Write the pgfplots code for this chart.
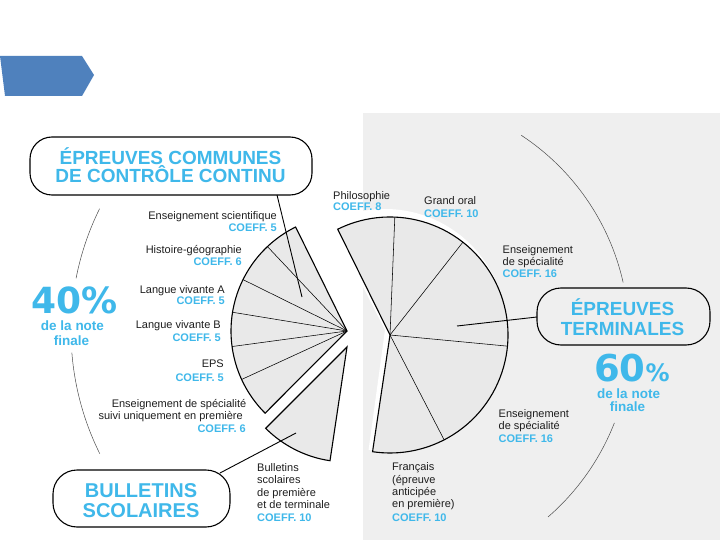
\documentclass[border=0pt]{standalone}
\usepackage{pgfplots}
\pgfplotsset{compat=1.18}
\usepackage{pgfplotstable}
\usepackage{fontspec}
\setmainfont{Liberation Sans}
\newfontfamily\numfont{DejaVu Sans}
\definecolor{cblue}{HTML}{3FB8EA}
\definecolor{arrowblue}{HTML}{4F81BD}
\definecolor{bggray}{HTML}{EFEFEF}
\definecolor{piegray}{HTML}{E9E9E9}
\definecolor{txt}{HTML}{1E1E1E}

% coefficients (each coefficient = 1 % of the final mark)
\pgfplotstableread{
subject coeff
sci 5
hist 6
lva 5
lvb 5
eps 5
spe 6
}\communes
\pgfplotstableread{
subject coeff
philo 8
oral 10
speA 16
speB 16
fr 10
}\terminales
\pgfplotstableread{
subject coeff
bulletins 10
}\bulletins

\newcommand\piesum[1]{%
  \def\pieSum{0}%
  \pgfplotstablegetrowsof{#1}%
  \pgfmathtruncatemacro\pieN{\pgfplotsretval-1}%
  \pgfplotsforeachungrouped \pieI in {0,...,\pieN}{%
    \pgfplotstablegetelem{\pieI}{coeff}\of{#1}%
    \pgfmathsetmacro\pieSum{\pieSum+\pgfplotsretval}%
  }%
}
% table, style, cx, cy, start, step (deg per coeff), radius
\newcommand\drawpie[7]{%
  \piesum{#1}%
  \pgfmathsetmacro\pieEnd{#5+(#6)*\pieSum}%
  \edef\pieTmp{\noexpand\path[#2] (axis cs:#3,#4) -- ++(canvas polar cs:angle=#5,radius=#7pt) arc[start angle=#5,end angle=\pieEnd,radius=#7pt] -- cycle;}%
  \pieTmp
}
% table, cx, cy, start, step, radius
\newcommand\drawdividers[6]{%
  \pgfplotstablegetrowsof{#1}%
  \pgfmathtruncatemacro\pieN{\pgfplotsretval-2}%
  \edef\pieAcc{#4}%
  \pgfplotsforeachungrouped \pieI in {0,...,\pieN}{%
    \pgfplotstablegetelem{\pieI}{coeff}\of{#1}%
    \pgfmathsetmacro\pieAcc{\pieAcc+(#5)*\pgfplotsretval}%
    \edef\pieTmp{\noexpand\draw[line width=0.55pt] (axis cs:#2,#3) -- ++(canvas polar cs:angle=\pieAcc,radius=#6pt);}%
    \pieTmp
  }%
}
\newcommand\lbl[4]{\node[anchor=base #3,inner sep=0pt,text=txt,font=\fontsize{11}{13}\selectfont] at (axis cs:#1,#2) {#4};}
\newcommand\cf[4]{\node[anchor=base #3,inner sep=0pt,text=cblue,font=\fontsize{11}{13}\selectfont\bfseries] at (axis cs:#1,#2) {#4};}
\newcommand\head[4]{\node[anchor=base,inner sep=0pt,text=cblue,font=\fontsize{#3}{#3}\selectfont\bfseries] at (axis cs:#1,#2) {#4};}

\begin{document}
\begin{tikzpicture}
\begin{axis}[width=720pt,height=540pt,scale only axis,
  xmin=0,xmax=720,ymin=0,ymax=540,y dir=reverse,hide axis,clip=false]
% backgrounds
\fill[white] (axis cs:0,0) rectangle (axis cs:720,540);
\fill[bggray] (axis cs:363,113) rectangle (axis cs:720,540);
\fill[arrowblue] (axis cs:0,56) -- (axis cs:82,56) -- (axis cs:94,75) -- (axis cs:82,96) -- (axis cs:5,96) -- cycle;

% right pie white halo
\drawpie{\terminales}{fill=white}{385}{330}{117}{-3.58}{121}
% pies
\drawpie{\communes}{fill=piegray}{347}{331}{116.3}{3.4}{116}
\drawpie{\bulletins}{fill=piegray}{347}{347}{225}{3.65}{115}
\drawpie{\terminales}{fill=piegray}{390}{335}{116.3}{-3.58}{118}
\drawdividers{\communes}{347}{331}{116.3}{3.4}{116}
\drawdividers{\terminales}{390}{335}{116.3}{-3.58}{118}
\drawpie{\communes}{draw=black,line width=1.1pt,line join=miter}{347}{331}{116.3}{3.4}{116}
\drawpie{\bulletins}{draw=black,line width=1.1pt}{347}{347}{225}{3.65}{115}
\drawpie{\terminales}{draw=black,line width=1.1pt}{390}{335}{116.3}{-3.58}{118}

% connectors
\draw[line width=0.9pt] (axis cs:277,195) -- (axis cs:302,297);
\draw[line width=0.9pt] (axis cs:220,473) -- (axis cs:296,433);
\draw[line width=0.9pt] (axis cs:537,317) -- (axis cs:457,326);

% thin arcs
\draw[black!70,line width=0.5pt] (axis cs:347,331) ++(canvas polar cs:angle=153.7,radius=276pt) arc[start angle=153.7,end angle=169,radius=276pt];
\draw[black!70,line width=0.5pt] (axis cs:347,331) ++(canvas polar cs:angle=184.5,radius=276pt) arc[start angle=184.5,end angle=206.4,radius=276pt];
\draw[black!70,line width=0.5pt] (axis cs:390,335) ++(canvas polar cs:angle=56.7,radius=239pt) arc[start angle=56.7,end angle=12.7,radius=239pt];
\draw[black!70,line width=0.5pt] (axis cs:390,335) ++(canvas polar cs:angle=-21.4,radius=241pt) arc[start angle=-21.4,end angle=-49,radius=241pt];

% boxes
\draw[line width=1.1pt,rounded corners=22pt] (axis cs:30,137) rectangle (axis cs:312,195);
\draw[line width=1.1pt,rounded corners=24pt] (axis cs:53,470) rectangle (axis cs:230,527);
\draw[line width=1.1pt,rounded corners=24pt] (axis cs:537,288) rectangle (axis cs:710,345);

% headings
\head{170.5}{165}{19}{ÉPREUVES COMMUNES}
\head{170.5}{183}{19}{DE CONTRÔLE CONTINU}
\head{141}{497}{20}{BULLETINS}
\head{141}{517}{20}{SCOLAIRES}
\head{622.5}{315}{19}{ÉPREUVES}
\head{622.5}{335}{19}{TERMINALES}

% percentages
\node[anchor=base west,inner sep=0pt,text depth=0pt,text=cblue,font=\numfont\bfseries\fontsize{36}{40}\selectfont] at (axis cs:31,313) {40\%};
\node[anchor=base,inner sep=0pt,text depth=0pt,text=cblue,font=\fontsize{13.5}{15}\selectfont\bfseries] at (axis cs:72.5,330) {de la note};
\node[anchor=base,inner sep=0pt,text depth=0pt,text=cblue,font=\fontsize{13.5}{15}\selectfont\bfseries] at (axis cs:71.5,345) {finale};
\node[anchor=base west,inner sep=0pt,text depth=0pt,text=cblue,font=\numfont\bfseries] at (axis cs:594,381) {{\fontsize{37}{40}\selectfont 60}{\fontsize{24}{26}\selectfont\%}};
\node[anchor=base,inner sep=0pt,text depth=0pt,text=cblue,font=\fontsize{13.5}{15}\selectfont\bfseries] at (axis cs:628.5,398) {de la note};
\node[anchor=base,inner sep=0pt,text depth=0pt,text=cblue,font=\fontsize{13.5}{15}\selectfont\bfseries] at (axis cs:627.5,411) {finale};

% left labels
\lbl{277}{220}{east}{Enseignement scientifique}
\cf{277}{232}{east}{COEFF. 5}
\lbl{242}{253}{east}{Histoire-géographie}
\cf{242}{265}{east}{COEFF. 6}
\lbl{225}{293}{east}{Langue vivante A}
\cf{225}{304.5}{east}{COEFF. 5}
\lbl{221}{328.5}{east}{Langue vivante B}
\cf{221}{341}{east}{COEFF. 5}
\lbl{224}{367}{east}{EPS}
\cf{224}{381}{east}{COEFF. 5}
\lbl{246.5}{407}{east}{Enseignement de spécialité}
\lbl{243}{419}{east}{suivi uniquement en première}
\cf{246}{432}{east}{COEFF. 6}
% bulletins
\lbl{257}{471}{west}{Bulletins}
\lbl{257}{483.5}{west}{scolaires}
\lbl{257}{496}{west}{de première}
\lbl{257}{508.5}{west}{et de terminale}
\cf{257}{521}{west}{COEFF. 10}
% right labels
\lbl{333}{199.5}{west}{Philosophie}
\cf{333}{211}{west}{COEFF. 8}
\lbl{424}{205}{west}{Grand oral}
\cf{424}{217.5}{west}{COEFF. 10}
\lbl{502.5}{253}{west}{Enseignement}
\lbl{502.5}{265}{west}{de spécialité}
\cf{502.5}{277}{west}{COEFF. 16}
\lbl{498.5}{417}{west}{Enseignement}
\lbl{498.5}{429.5}{west}{de spécialité}
\cf{498.5}{442}{west}{COEFF. 16}
\lbl{392}{470}{west}{Français}
\lbl{392}{483}{west}{(épreuve}
\lbl{392}{495}{west}{anticipée}
\lbl{392}{507.5}{west}{en première)}
\cf{392}{521}{west}{COEFF. 10}
\end{axis}
\end{tikzpicture}
\end{document}
